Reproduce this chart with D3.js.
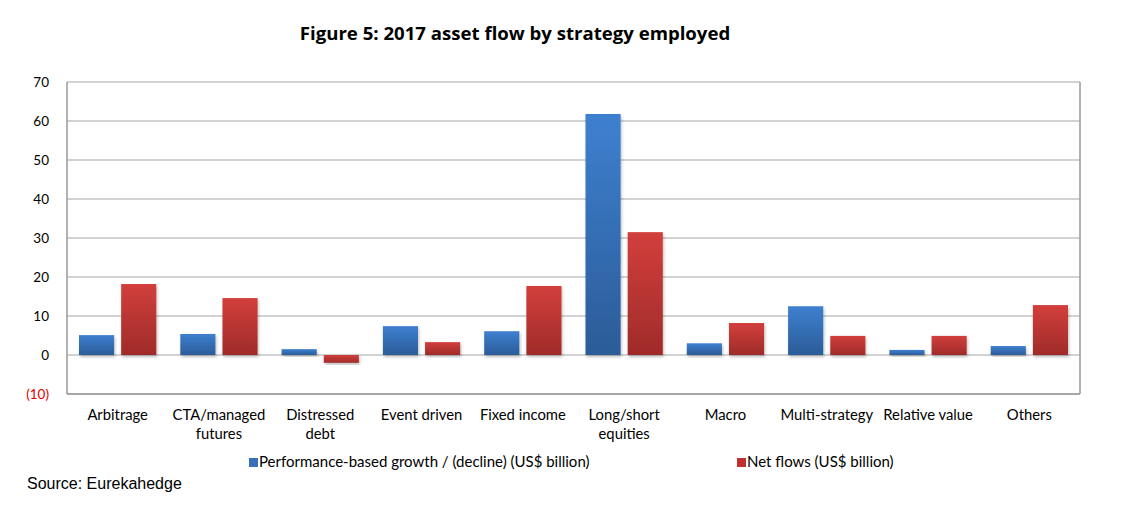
<!DOCTYPE html>
<html>
<head>
<meta charset="utf-8">
<script src="https://cdn.jsdelivr.net/npm/d3@7"></script>
<style>
body { margin: 0; background: #fff; }
text { font-family: Lato, "Noto Sans", sans-serif; }
</style>
</head>
<body>
<svg id="ChartSvg" width="1125" height="513"></svg>
<script>
var Categories = ["Arbitrage", "CTA/managed futures", "Distressed debt", "Event driven", "Fixed income",
	"Long/short equities", "Macro", "Multi-strategy", "Relative value", "Others"];
var CategoryLines = [["Arbitrage"], ["CTA/managed", "futures"], ["Distressed", "debt"], ["Event driven"], ["Fixed income"],
	["Long/short", "equities"], ["Macro"], ["Multi-strategy"], ["Relative value"], ["Others"]];
var PerformanceGrowth = [5.1, 5.4, 1.5, 7.4, 6.1, 61.8, 3.0, 12.5, 1.3, 2.3];
var NetFlows = [18.2, 14.6, -2.0, 3.3, 17.7, 31.5, 8.2, 4.9, 4.9, 12.8];
var SeriesNames = ["Performance-based growth / (decline) (US$ billion)", "Net flows (US$ billion)"];
var YTicks = [-10, 0, 10, 20, 30, 40, 50, 60, 70];

var svg = d3.select("#ChartSvg");
var Left = 67, Right = 1080, Top = 82, Bottom = 394;

var x0 = d3.scaleBand().domain(Categories).range([Left, Right]).padding(0);
var x1 = d3.scaleBand().domain([0, 1]).range([12, x0.bandwidth() - 12]).paddingInner(0.167);
var y = d3.scaleLinear().domain([-10, 70]).range([Bottom, Top]);

// gradients and shadow
var defs = svg.append("defs");
var Grads = [["gradBlue", "#3e80d0", "#2b5c98"], ["gradRed", "#d23f3c", "#9f2b29"]];
Grads.forEach(function(g)
{
	var lg = defs.append("linearGradient").attr("id", g[0]).attr("x1", 0).attr("y1", 0).attr("x2", 0).attr("y2", 1);
	lg.append("stop").attr("offset", "0%").attr("stop-color", g[1]);
	lg.append("stop").attr("offset", "100%").attr("stop-color", g[2]);
});
var filt = defs.append("filter").attr("id", "shadow").attr("x", "-20%").attr("y", "-20%").attr("width", "140%").attr("height", "140%");
filt.append("feDropShadow").attr("dx", 1).attr("dy", 2).attr("stdDeviation", 1.5).attr("flood-color", "#000").attr("flood-opacity", 0.25);

// title
svg.append("text").attr("x", 515).attr("y", 40).attr("text-anchor", "middle")
	.style("font-family", "'Open Sans', sans-serif").style("font-weight", "bold").style("font-size", "18.6px")
	.text("Figure 5: 2017 asset flow by strategy employed");

// grid
svg.append("g").selectAll("line").data(YTicks).enter().append("line")
	.attr("x1", Left).attr("x2", Right)
	.attr("y1", function(d) { return y(d); }).attr("y2", function(d) { return y(d); })
	.attr("stroke", "#a6a6a6").attr("stroke-width", 1.2);
svg.append("line").attr("x1", Left).attr("x2", Left).attr("y1", Top).attr("y2", Bottom).attr("stroke", "#999").attr("stroke-width", 1.5);
svg.append("line").attr("x1", Right).attr("x2", Right).attr("y1", Top).attr("y2", Bottom).attr("stroke", "#999").attr("stroke-width", 1.5);
svg.append("line").attr("x1", Left).attr("x2", Right).attr("y1", Bottom).attr("y2", Bottom).attr("stroke", "#999").attr("stroke-width", 1.5);

// y labels
svg.append("g").selectAll("text").data(YTicks).enter().append("text")
	.attr("x", 49).attr("y", function(d) { return y(d) + 5; })
	.attr("text-anchor", "end").style("font-size", "13.5px")
	.style("fill", function(d) { return d < 0 ? "#e00000" : "#000"; })
	.text(function(d) { return d < 0 ? "(" + (-d) + ")" : d; });

// bars
var Groups = svg.append("g").selectAll("g").data(Categories).enter().append("g")
	.attr("transform", function(d) { return "translate(" + x0(d) + ",0)"; });
Groups.selectAll("rect")
	.data(function(d, i) { return [PerformanceGrowth[i], NetFlows[i]]; })
	.enter().append("rect")
	.attr("x", function(d, j) { return x1(j); })
	.attr("width", x1.bandwidth())
	.attr("y", function(d) { return y(Math.max(0, d)); })
	.attr("height", function(d) { return Math.abs(y(d) - y(0)); })
	.attr("fill", function(d, j) { return j == 0 ? "url(#gradBlue)" : "url(#gradRed)"; })
	.attr("filter", "url(#shadow)");

// x labels
var XLabels = svg.append("g").selectAll("text").data(Categories).enter().append("text")
	.attr("x", function(d) { return x0(d) + x0.bandwidth() / 2; })
	.attr("y", 420).attr("text-anchor", "middle").style("font-size", "14.8px");
XLabels.selectAll("tspan").data(function(d, i) { return CategoryLines[i]; }).enter().append("tspan")
	.attr("x", function() { return d3.select(this.parentNode).attr("x"); })
	.attr("dy", function(d, k) { return k == 0 ? 0 : 19; })
	.text(function(d) { return d; });

// legend
var LegendX = [249, 737];
var LegendColors = ["#3a70b8", "#c0302f"];
var Legend = svg.append("g").selectAll("g").data(SeriesNames).enter().append("g")
	.attr("transform", function(d, i) { return "translate(" + LegendX[i] + ",456)"; });
Legend.append("rect").attr("width", 9).attr("height", 9).attr("y", 2).attr("fill", function(d, i) { return LegendColors[i]; });
Legend.append("text").attr("x", 10).attr("y", 11).style("font-size", "15px").text(function(d) { return d; });

// source
svg.append("text").attr("x", 27).attr("y", 489)
	.style("font-family", "'Liberation Sans', Arial, sans-serif").style("font-size", "16px")
	.text("Source: Eurekahedge");
</script>
</body>
</html>
